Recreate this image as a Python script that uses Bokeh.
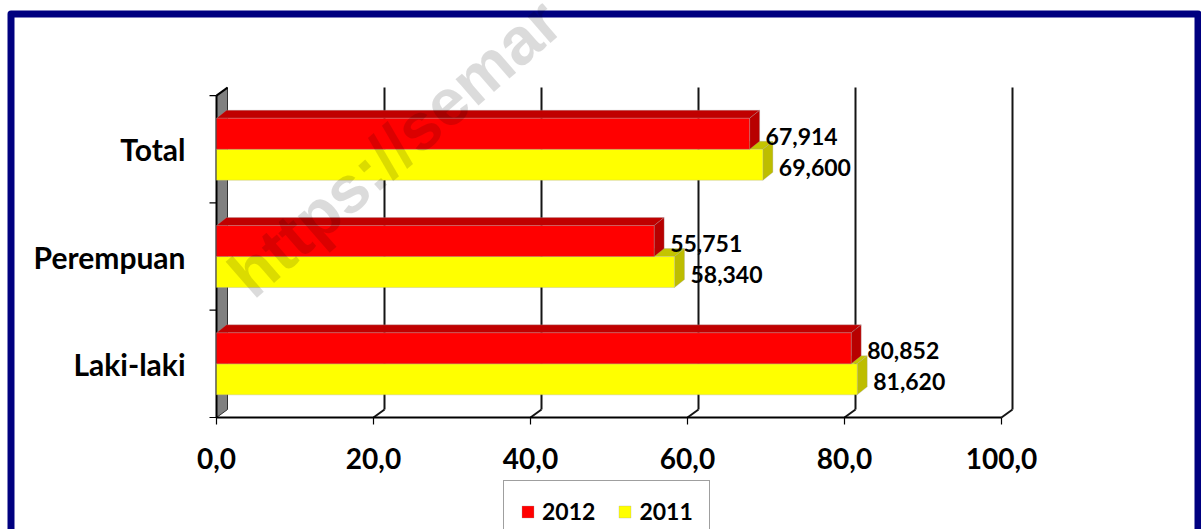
import math
from bokeh.plotting import figure
from bokeh.models import Range1d, ColumnDataSource, Legend, LegendItem
from bokeh.core.properties import value
from bokeh.embed import file_html
from bokeh.resources import INLINE

# ---- data -------------------------------------------------------------
categories = ["Laki-laki", "Perempuan", "Total"]
values_2012 = [80.852, 55.751, 67.914]
values_2011 = [81.620, 58.340, 69.600]
series_names = ["2012", "2011"]
x_ticks = [0, 20, 40, 60, 80, 100]
x_tick_labels = ["0,0", "20,0", "40,0", "60,0", "80,0", "100,0"]

# ---- canvas / scale set-up -------------------------------------------
W, H = 1201, 529
X0_PX, X_PER = 216.0, 7.85      # pixel of x=0 and pixels per unit
Y0_PX, Y_PER = 417.0, 107.3     # pixel of the floor and pixels per category band


def dx(px):
    return px / X_PER


def dy(px):
    return px / Y_PER


def sx(px):
    return (px - X0_PX) / X_PER


def sy(px):
    return (Y0_PX - px) / Y_PER


p = figure(width=W, height=H, output_backend="svg", toolbar_location=None,
           x_axis_type=None, y_axis_type=None, min_border=0,
           x_range=Range1d(sx(0), sx(W)), y_range=Range1d(sy(H), sy(0)),
           outline_line_color=None, background_fill_color="white",
           border_fill_color="white")

FONT = value("Lato")
n_cat = len(categories)
x_max = x_ticks[-1]

# depth of the walls and of the bars (3-D look)
WX, WY = dx(11), dy(8)
BX, BY = dx(10), dy(8)
BAR_H = dy(31)

# ---- left wall ---------------------------------------------------------
p.patch([0, WX, WX, 0], [0, WY, n_cat + WY, n_cat],
        fill_color="#808080", line_color="#303030", line_width=1)
p.line([0, WX], [n_cat, n_cat + WY], line_color="black", line_width=2)

# back-wall gridlines and floor diagonals
grid_x = [t + WX for t in x_ticks[1:]]
p.multi_line(xs=[[g, g] for g in grid_x],
             ys=[[WY, n_cat + WY] for _ in grid_x],
             line_color="#151515", line_width=2)
p.multi_line(xs=[[t, t + WX] for t in x_ticks[1:]],
             ys=[[0, WY] for _ in x_ticks[1:]],
             line_color="#151515", line_width=2)

# front axes
p.line([0, x_max], [0, 0], line_color="black", line_width=2)
p.line([0, 0], [0, n_cat], line_color="black", line_width=2)
p.multi_line(xs=[[t, t] for t in x_ticks], ys=[[0, -dy(7)] for _ in x_ticks],
             line_color="black", line_width=1.2)
p.multi_line(xs=[[-dx(7), 0] for _ in range(n_cat + 1)],
             ys=[[k, k] for k in range(n_cat + 1)],
             line_color="black", line_width=1.2)

# ---- 3-D bars ----------------------------------------------------------
face_colors = {"2012": ("#FF0000", "#C00000", "#B80000"),
               "2011": ("#FFFF00", "#C4C400", "#BDBD00")}
edge = dict(line_color="#a0a0a0", line_width=0.6, line_alpha=0.5)
front_renderers = {}

for name, vals, sign in (("2011", values_2011, -1), ("2012", values_2012, +1)):
    front_c, top_c, side_c = face_colors[name]
    fx, fy, tx, ty, ssx, ssy = [], [], [], [], [], []
    for i, v in enumerate(vals):
        c = i + 0.5
        y0, y1 = (c, c + BAR_H) if sign > 0 else (c - BAR_H, c)
        fx.append([0, v, v, 0]); fy.append([y0, y0, y1, y1])
        tx.append([0, v, v + BX, BX]); ty.append([y1, y1, y1 + BY, y1 + BY])
        ssx.append([v, v + BX, v + BX, v]); ssy.append([y0, y0 + BY, y1 + BY, y1])
    p.patches(tx, ty, fill_color=top_c, **edge)
    p.patches(ssx, ssy, fill_color=side_c, **edge)
    front_renderers[name] = p.patches(fx, fy, fill_color=front_c, **edge)

    # value labels
    src = ColumnDataSource(dict(
        x=vals,
        y=[(i + 0.5) + (BAR_H / 2 if sign > 0 else -BAR_H / 2) for i in range(n_cat)],
        t=[f"{v:.3f}".replace(".", ",") for v in vals]))
    p.text("x", "y", text="t", source=src, x_offset=10 + 6, y_offset=2.5,
           text_align="left", text_baseline="alphabetic",
           text_font=FONT, text_font_style="bold", text_font_size="23px",
           text_color="black")

# ---- axis texts --------------------------------------------------------
p.text(x=[0] * n_cat, y=[i + 0.5 for i in range(n_cat)], text=categories,
       x_offset=-31, y_offset=0, text_align="right", text_baseline="alphabetic",
       text_font=FONT, text_font_style="bold", text_font_size="30px",
       text_color="black")
p.text(x=x_ticks, y=[0] * len(x_ticks), text=x_tick_labels,
       y_offset=41, text_align="center", text_baseline="alphabetic",
       text_font=FONT, text_font_style="bold", text_font_size="28px",
       text_color="black")

# ---- navy frame --------------------------------------------------------
p.quad(left=[sx(10.5)], right=[sx(1197.5)], top=[sy(13.5)], bottom=[sy(560)],
       fill_color=None, line_color="#000080", line_width=7, line_join="round")

# ---- legend ------------------------------------------------------------
legend = Legend(items=[LegendItem(label=n, renderers=[front_renderers[n]])
                       for n in series_names],
                orientation="horizontal", location=(503, -13), margin=0,
                padding=16, spacing=22, label_standoff=7,
                glyph_width=15, glyph_height=15,
                label_text_font="Lato", label_text_font_style="bold",
                label_text_font_size="23px", label_text_color="black",
                label_height=20,
                border_line_color="#404040", border_line_width=1,
                background_fill_color="white", background_fill_alpha=1)
p.add_layout(legend)

# ---- watermark ---------------------------------------------------------
p.text(x=[sx(238)], y=[sy(283)], text=["https://semar"],
       angle=math.radians(41), text_align="left", text_baseline="alphabetic",
       text_font=value("Liberation Sans"), text_font_style="bold",
       text_font_size="66px", text_color="black", text_alpha=0.14)

open("out.html", "w").write(file_html(p, INLINE))
